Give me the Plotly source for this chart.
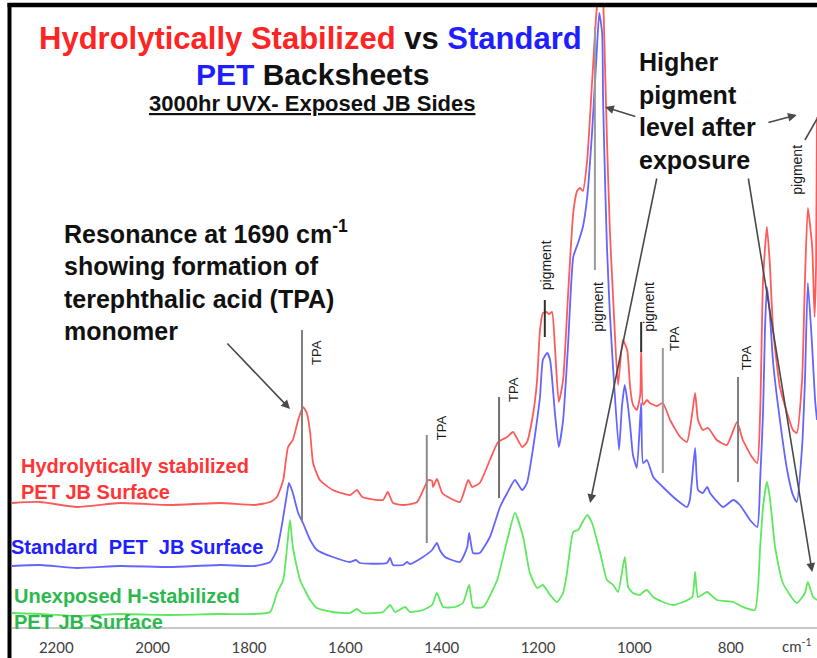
import plotly.graph_objects as go

# ---------------- data ----------------
# wavenumber (cm-1) and offset absorbance (arbitrary units)
red_wn = [2292, 2234, 2157, 2068, 1964, 1860, 1788, 1756, 1742, 1729, 1719, 1709, 1698, 1688, 1680, 1673,
          1667, 1653, 1626, 1590, 1576, 1565, 1522, 1512, 1501, 1480, 1451, 1428, 1420, 1418, 1410, 1399,
          1383, 1362, 1345, 1337, 1321, 1300, 1283, 1264, 1252, 1233, 1223, 1210, 1202, 1196, 1190, 1183,
          1177, 1171, 1165, 1157, 1148, 1138, 1127, 1119, 1113, 1107, 1098, 1088, 1080, 1071, 1065, 1061,
          1057, 1051, 1044, 1034, 1024, 1015, 1009, 1003, 995, 988, 986, 982, 974, 968, 953, 941, 926, 905,
          891, 880, 874, 868, 858, 847, 829, 808, 787, 775, 756, 745, 739, 733, 725, 719, 712, 698, 683,
          671, 663, 652, 646, 640, 631, 626, 623, 621]
red_ab = [1.24, 1.25, 1.20, 1.24, 1.22, 1.24, 1.22, 1.25, 1.30, 1.47, 1.80, 1.87, 2.07, 2.20, 2.14, 1.94,
          1.64, 1.47, 1.37, 1.32, 1.37, 1.30, 1.27, 1.35, 1.24, 1.22, 1.25, 1.47, 1.46, 1.40, 1.48, 1.34,
          1.29, 1.25, 1.47, 1.40, 1.44, 1.67, 1.85, 1.90, 1.95, 1.80, 1.85, 2.14, 2.47, 2.97, 3.14, 3.15,
          3.13, 3.15, 2.80, 2.25, 2.47, 3.30, 4.14, 4.36, 4.39, 4.36, 4.67, 5.44, 6.07, 6.57, 6.27, 5.60,
          4.87, 3.97, 3.27, 2.42, 2.87, 2.77, 2.40, 2.22, 2.17, 2.32, 2.77, 2.22, 2.27, 2.24, 2.21, 2.24,
          2.07, 1.90, 1.85, 2.14, 2.34, 2.07, 1.97, 1.99, 1.87, 1.82, 2.05, 1.87, 1.70, 1.64, 2.14, 3.47,
          4.00, 3.64, 2.97, 2.40, 2.14, 1.97, 1.94, 2.47, 3.47, 4.19, 3.80, 3.10, 3.60, 5.10]

blue_wn = [2292, 2234, 2157, 2068, 1964, 1860, 1788, 1756, 1742, 1731, 1721, 1717, 1709, 1698, 1688, 1673,
           1659, 1626, 1590, 1578, 1570, 1514, 1507, 1501, 1480, 1472, 1466, 1439, 1420, 1410, 1404, 1393,
           1362, 1347, 1343, 1335, 1321, 1300, 1279, 1264, 1248, 1233, 1223, 1210, 1202, 1196, 1190, 1181,
           1175, 1165, 1157, 1148, 1138, 1127, 1117, 1107, 1098, 1088, 1078, 1073, 1067, 1065, 1061, 1057,
           1051, 1044, 1032, 1026, 1020, 1015, 1009, 1003, 995, 986, 982, 974, 961, 941, 912, 891, 885, 874,
           868, 858, 849, 843, 816, 795, 781, 760, 745, 739, 733, 729, 725, 719, 712, 698, 683, 671, 663,
           652, 646, 640, 631, 625, 621]
blue_ab = [0.61, 0.62, 0.59, 0.61, 0.60, 0.62, 0.61, 0.65, 0.77, 1.04, 1.34, 1.44, 1.34, 1.14, 1.04, 0.87,
           0.77, 0.70, 0.65, 0.67, 0.64, 0.64, 0.69, 0.62, 0.62, 0.65, 0.63, 0.70, 0.77, 0.84, 0.77, 0.70,
           0.65, 0.80, 0.94, 0.74, 0.74, 0.90, 1.20, 1.34, 1.47, 1.37, 1.44, 1.80, 2.07, 2.30, 2.67, 2.74,
           2.67, 2.14, 1.80, 2.07, 2.80, 3.70, 3.84, 4.00, 4.30, 4.94, 5.77, 6.14, 5.94, 5.27, 4.47, 3.80,
           3.14, 2.57, 1.77, 2.20, 2.42, 2.27, 2.02, 1.72, 1.59, 2.24, 1.64, 1.67, 1.50, 1.40, 1.27, 1.20,
           1.27, 1.79, 1.37, 1.34, 1.40, 1.34, 1.20, 1.27, 1.22, 1.07, 1.00, 1.47, 2.14, 2.97, 3.40, 3.14,
           2.64, 2.07, 1.57, 1.32, 1.25, 1.80, 2.47, 3.44, 2.80, 2.27, 2.07]

green_wn = [2292, 2234, 2157, 2068, 1964, 1860, 1788, 1756, 1742, 1729, 1721, 1715, 1709, 1694, 1673, 1659,
            1626, 1590, 1576, 1565, 1522, 1507, 1497, 1476, 1466, 1439, 1420, 1410, 1397, 1372, 1356, 1343,
            1335, 1314, 1285, 1264, 1248, 1231, 1217, 1202, 1190, 1175, 1161, 1148, 1140, 1127, 1117, 1113,
            1098, 1088, 1071, 1057, 1044, 1034, 1020, 1013, 1003, 988, 984, 974, 961, 941, 920, 899, 880,
            874, 868, 849, 829, 795, 775, 750, 739, 733, 725, 719, 708, 692, 663, 646, 640, 629, 621]
green_ab = [0.14, 0.13, 0.11, 0.13, 0.12, 0.13, 0.13, 0.15, 0.34, 0.47, 0.80, 1.07, 0.80, 0.47, 0.27, 0.19,
            0.15, 0.14, 0.18, 0.14, 0.15, 0.22, 0.15, 0.20, 0.15, 0.17, 0.22, 0.34, 0.20, 0.20, 0.24, 0.42,
            0.20, 0.20, 0.47, 0.87, 1.14, 0.90, 0.54, 0.39, 0.42, 0.32, 0.25, 0.34, 0.54, 0.95, 0.97, 1.00,
            1.12, 1.04, 0.74, 0.47, 0.42, 0.35, 0.70, 0.40, 0.34, 0.32, 0.34, 0.37, 0.30, 0.25, 0.22, 0.25,
            0.30, 0.55, 0.30, 0.35, 0.27, 0.25, 0.20, 0.17, 0.80, 1.20, 1.45, 1.30, 0.80, 0.44, 0.24, 0.34,
            0.45, 0.30, 0.27]

tick_vals = [2200, 2000, 1800, 1600, 1400, 1200, 1000, 800]
tick_text = ["2200", "2000", "1800", "1600", "1400", "1200", "1000", "800"]

# band markers: wavenumber, label
marker_wn = [1690, 1431, 1281, 1186, 1082, 986, 941, 785]
marker_lbl = ["TPA", "TPA", "TPA", "pigment", "pigment", "pigment", "TPA", "TPA"]

# ---------------- layout helpers ----------------
W, H = 817, 658
ML, MR, MT, MB = 12, 0, 5, 31
PW, PH = W - ML - MR, H - MT - MB
X_LEFT, X_RIGHT = 2292, 621
Y_MIN, Y_MAX = 0.0, 6.22


def paper(xp, yp):
    return (xp - ML) / PW, (H - MB - yp) / PH


FONT = "Liberation Sans, Arial, sans-serif"
RED_T, BLUE_T, GREEN_T = "#ff5a5a", "#6464ff", "#5fe85f"

fig = go.Figure()
for wn, ab, col in [(red_wn, red_ab, RED_T), (blue_wn, blue_ab, BLUE_T), (green_wn, green_ab, GREEN_T)]:
    fig.add_trace(go.Scatter(x=wn, y=ab, mode="lines",
                             line=dict(color=col, width=1.8, shape="spline", smoothing=0.5),
                             hoverinfo="skip", showlegend=False))

shapes = []
ann = []

# marker lines (y extents) and label positions
marker_y = [(1.05, 2.97), (0.84, 1.92), (1.29, 2.30), (2.90, 3.27), (3.57, 6.00), (2.75, 3.05),
            (1.54, 2.79), (1.45, 2.50)]
marker_col = ["#808080", "#8a8a8a", "#707070", "#303030", "#9a9a9a", "#303030", "#9a9a9a", "#808080"]
label_pos = [(1661, 2.75), (1401, 1.99), (1252, 2.37), (1183, 3.62), (1076, 3.20), (970, 3.20),
             (918, 2.89), (768, 2.69)]
for wn, (y0, y1), c, lbl, (lx, ly) in zip(marker_wn, marker_y, marker_col, marker_lbl, label_pos):
    shapes.append(dict(type="line", xref="x", yref="y", x0=wn, x1=wn, y0=y0, y1=y1,
                       line=dict(color=c, width=2)))
    ann.append(dict(x=lx, y=ly, xref="x", yref="y", text=lbl, showarrow=False, textangle=-90,
                    font=dict(family=FONT, size=14 if lbl == "pigment" else 13, color="#1a1a1a")))
# far right pigment label
ann.append(dict(x=663, y=4.57, xref="x", yref="y", text="pigment", showarrow=False, textangle=-90,
                font=dict(family=FONT, size=14, color="#1a1a1a")))

# arrows (head, tail) in data units
arrows = [((1715, 2.18), (1848, 2.85)),
          ((1061, 5.20), (995, 5.10)),
          ((663, 5.12), (725, 5.04)),
          ((1092, 1.24), (953, 4.50)),
          ((631, 0.55), (764, 4.50))]
for (hx, hy), (tx, ty) in arrows:
    ann.append(dict(x=hx, y=hy, ax=tx, ay=ty, xref="x", yref="y", axref="x", ayref="y", text="",
                    showarrow=True, arrowhead=2, arrowsize=1.1, arrowwidth=1.6, arrowcolor="#4a4a4a",
                    standoff=0, startstandoff=0))
shapes.append(dict(type="line", xref="x", yref="y", x0=646, y0=4.87, x1=621, y1=5.08,
                   line=dict(color="#4a4a4a", width=1.6)))

# frame (top and left black border)
shapes.append(dict(type="line", xref="paper", yref="paper", x0=paper(9.5, 0)[0], x1=paper(9.5, 0)[0],
                   y0=paper(0, H)[1], y1=paper(0, 3)[1], line=dict(color="black", width=4)))
shapes.append(dict(type="line", xref="paper", yref="paper", x0=paper(7.5, 0)[0], x1=paper(W + 2, 0)[0],
                   y0=paper(0, 5)[1], y1=paper(0, 5)[1], line=dict(color="black", width=4.5)))

# titles
TR, TB = "#ff2424", "#1e1eff"
x, y = paper(310, 38)
ann.append(dict(x=x, y=y, xref="paper", yref="paper", showarrow=False, xanchor="center", yanchor="middle",
                text=f"<span style='color:{TR}'>Hydrolytically Stabilized</span> vs "
                     f"<span style='color:{TB}'>Standard</span>",
                font=dict(family=FONT, size=31, color="#111111", weight="bold")))
x, y = paper(312, 74)
ann.append(dict(x=x, y=y, xref="paper", yref="paper", showarrow=False, xanchor="center", yanchor="middle",
                text=f"<span style='color:{TB}'>PET</span> Backsheets",
                font=dict(family=FONT, size=30, color="#111111", weight="bold")))
x, y = paper(312, 104)
ann.append(dict(x=x, y=y, xref="paper", yref="paper", showarrow=False, xanchor="center", yanchor="middle",
                text="3000hr UVX- Exposed JB Sides",
                font=dict(family=FONT, size=22, color="#111111", weight="bold", lineposition="under")))

# explanatory texts
x, y = paper(62, 280)
ann.append(dict(x=x, y=y, xref="paper", yref="paper", showarrow=False, xanchor="left", yanchor="middle",
                align="left",
                text="Resonance at 1690 cm<sup>-1</sup><br>showing formation of<br>"
                     "terephthalic acid (TPA)<br>monomer",
                font=dict(family=FONT, size=25, color="#111111", weight="bold")))
x, y = paper(637, 111)
ann.append(dict(x=x, y=y, xref="paper", yref="paper", showarrow=False, xanchor="left", yanchor="middle",
                align="left", text="Higher<br>pigment<br>level after<br>exposure",
                font=dict(family=FONT, size=25, color="#111111", weight="bold")))

# series labels
x, y = paper(19, 478.5)
ann.append(dict(x=x, y=y, xref="paper", yref="paper", showarrow=False, xanchor="left", yanchor="middle",
                align="left", text="Hydrolytically stabilized<br>PET JB Surface",
                font=dict(family=FONT, size=20, color="#ff3434", weight="bold")))
x, y = paper(9, 547)
ann.append(dict(x=x, y=y, xref="paper", yref="paper", showarrow=False, xanchor="left", yanchor="middle",
                align="left", text="Standard\u00a0\u00a0PET\u00a0\u00a0JB Surface",
                font=dict(family=FONT, size=20, color="#2020ff", weight="bold")))
x, y = paper(12, 608.5)
ann.append(dict(x=x, y=y, xref="paper", yref="paper", showarrow=False, xanchor="left", yanchor="middle",
                align="left", text="Unexposed H-stabilized<br>PET JB Surface",
                font=dict(family=FONT, size=20, color="#2db84f", weight="bold")))

# unit label at the end of the axis
x, y = paper(797, 645)
ann.append(dict(x=x, y=y, xref="paper", yref="paper", showarrow=False, xanchor="center", yanchor="middle",
                text="cm<sup>-1</sup>", font=dict(family="Lato, sans-serif", size=15, color="#404040")))

fig.update_layout(
    width=W, height=H, margin=dict(l=ML, r=MR, t=MT, b=MB),
    paper_bgcolor="white", plot_bgcolor="white",
    shapes=shapes, annotations=ann, showlegend=False,
    xaxis=dict(range=[X_LEFT, X_RIGHT], tickvals=tick_vals, ticktext=tick_text, showgrid=False,
               zeroline=False, showline=True, linecolor="#c8c8c8", linewidth=2, ticks="",
               ticklabelstandoff=6, tickfont=dict(family="Lato, sans-serif", size=15, color="#404040")),
    yaxis=dict(range=[Y_MIN, Y_MAX], showgrid=False, zeroline=False, showline=False,
               showticklabels=False, ticks=""),
)

fig.write_html("out.html", config={"displayModeBar": False},
               post_script="document.body.style.margin='0';document.body.style.overflow='hidden';")
